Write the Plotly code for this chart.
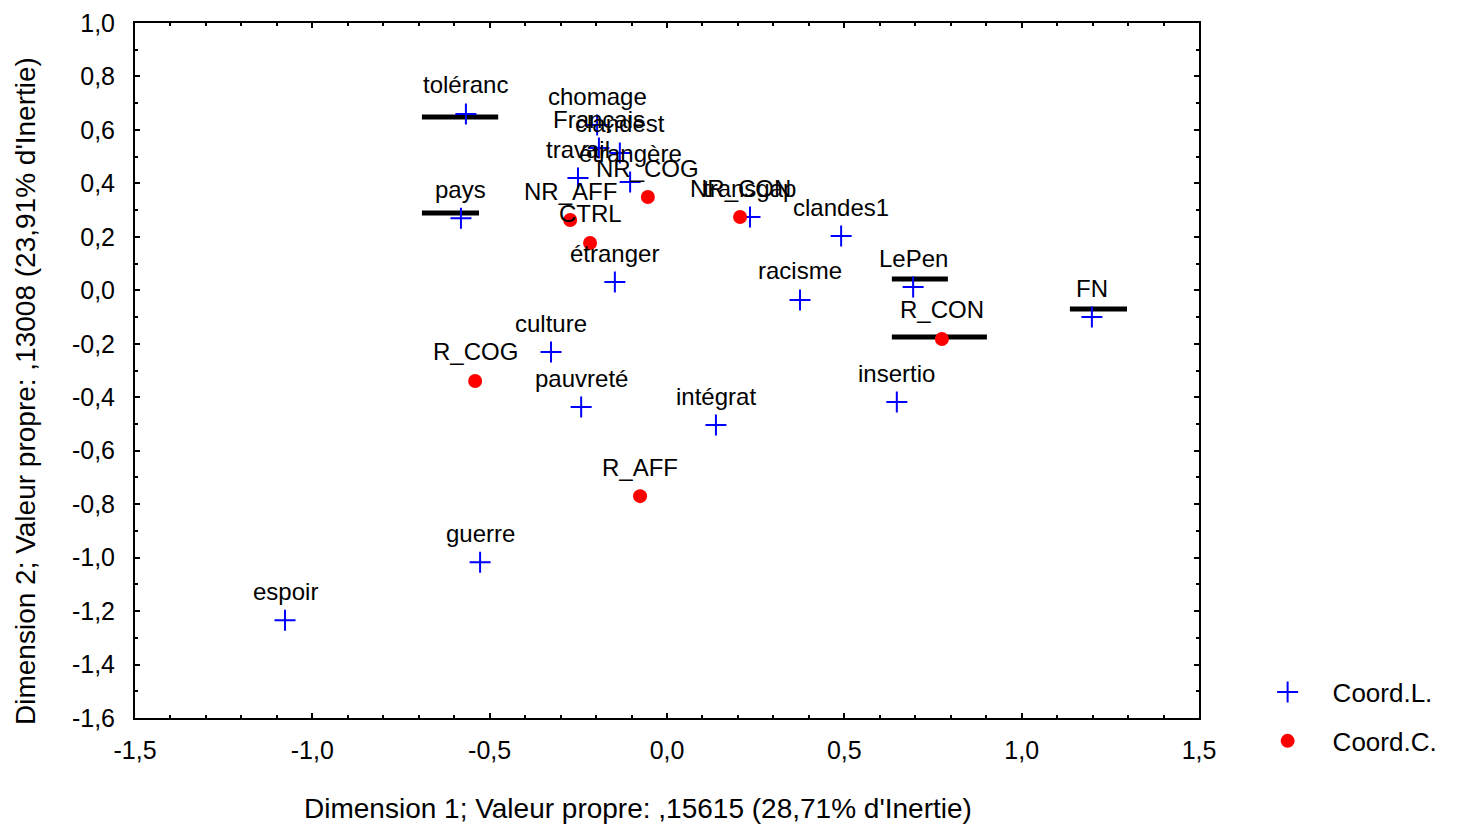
import plotly.graph_objects as go

# Row points (Coord.L.)
labels_L = ["toléranc", "chomage", "Français", "clandest", "travail", "étrangère",
            "transgap", "pays", "étranger", "clandes1", "racisme", "LePen", "FN",
            "insertio", "intégrat", "culture", "pauvreté", "guerre", "espoir"]
x_L = [-0.567, -0.197, -0.192, -0.133, -0.251, -0.104, 0.234, -0.581, -0.147, 0.491,
       0.375, 0.694, 1.198, 0.648, 0.138, -0.327, -0.242, -0.527, -1.077]
y_L = [0.660, 0.618, 0.532, 0.514, 0.420, 0.405, 0.274, 0.270, 0.031, 0.203,
       -0.036, 0.012, -0.100, -0.418, -0.504, -0.231, -0.437, -1.017, -1.234]

# Column points (Coord.C.)
labels_C = ["NR_COG", "NR_CON", "NR_AFF", "CTRL", "R_CON", "R_COG", "R_AFF"]
x_C = [-0.054, 0.206, -0.273, -0.217, 0.775, -0.541, -0.076]
y_C = [0.349, 0.274, 0.263, 0.177, -0.182, -0.339, -0.770]

# Black highlight bars seen in the picture
bar_x0 = [-0.691, -0.691, 0.634, 1.136, 0.634]
bar_x1 = [-0.476, -0.530, 0.792, 1.297, 0.902]
bar_y = [0.648, 0.289, 0.042, -0.070, -0.175]

# Axis ticks
x_ticks = [-1.5, -1.0, -0.5, 0.0, 0.5, 1.0, 1.5]
x_ticktext = ["-1,5", "-1,0", "-0,5", "0,0", "0,5", "1,0", "1,5"]
y_ticks = [1.0, 0.8, 0.6, 0.4, 0.2, 0.0, -0.2, -0.4, -0.6, -0.8, -1.0, -1.2, -1.4, -1.6]
y_ticktext = ["1,0", "0,8", "0,6", "0,4", "0,2", "0,0", "-0,2", "-0,4", "-0,6",
              "-0,8", "-1,0", "-1,2", "-1,4", "-1,6"]

xtitle = "Dimension 1; Valeur propre: ,15615 (28,71% d'Inertie)"
ytitle = "Dimension 2; Valeur propre: ,13008 (23,91% d'Inertie)"

FONT = "Liberation Sans, Arial, sans-serif"

fig = go.Figure()

bx, by = [], []
for a, b, c in zip(bar_x0, bar_x1, bar_y):
    bx += [a, b, None]
    by += [c, c, None]
fig.add_trace(go.Scatter(x=bx, y=by, mode="lines", line=dict(color="black", width=5),
                         showlegend=False, hoverinfo="skip"))

fig.add_trace(go.Scatter(x=x_L, y=y_L, mode="markers", name="Coord.L.", legendgroup="L",
                         marker=dict(symbol="cross-thin", size=15,
                                     line=dict(color="#0000ff", width=2), color="#0000ff")))
fig.add_trace(go.Scatter(x=x_C, y=y_C, mode="markers", name="Coord.C.", legendgroup="C",
                         marker=dict(symbol="circle", size=14, color="#ff0000")))

for lab, xx, yy in list(zip(labels_L, x_L, y_L)) + list(zip(labels_C, x_C, y_C)):
    fig.add_annotation(x=xx, y=yy, text=lab, showarrow=False, yshift=29,
                       xanchor="center", yanchor="middle",
                       font=dict(family=FONT, size=24, color="black"))

fig.add_annotation(xref="paper", yref="paper", x=0.4727, y=-0.1295, text=xtitle,
                   showarrow=False, xanchor="center", yanchor="middle",
                   font=dict(family=FONT, size=28, color="black"))
fig.add_annotation(xref="paper", yref="paper", x=-0.1034, y=0.4705, text=ytitle,
                   showarrow=False, textangle=-90, xanchor="center", yanchor="middle",
                   font=dict(family=FONT, size=28, color="black"))

axis_common = dict(showgrid=False, zeroline=False, showline=True, linecolor="black",
                   linewidth=2, mirror="allticks", ticks="inside", ticklen=5,
                   tickwidth=1.5, tickcolor="black", automargin=False,
                   tickfont=dict(family=FONT, size=25, color="black"))

fig.update_xaxes(range=[-1.5, 1.5], tickmode="array", tickvals=x_ticks, ticktext=x_ticktext,
                 minor=dict(dtick=0.1, tick0=0, ticks="inside", ticklen=3, tickcolor="black"),
                 ticklabelstandoff=9, **axis_common)
fig.update_yaxes(range=[-1.6, 1.0], tickmode="array", tickvals=y_ticks, ticktext=y_ticktext,
                 minor=dict(dtick=0.1, tick0=0, ticks="inside", ticklen=3, tickcolor="black"),
                 ticklabelstandoff=13, **axis_common)

fig.update_layout(
    width=1460, height=830,
    margin=dict(l=127, r=269, t=15, b=120),
    plot_bgcolor="white", paper_bgcolor="white",
    font=dict(family=FONT, size=24, color="black"),
    legend=dict(x=1.041, y=0.071, xanchor="left", yanchor="top",
                font=dict(family=FONT, size=26, color="black"),
                itemwidth=80,
                tracegroupgap=12, bgcolor="rgba(0,0,0,0)"),
)

fig.write_html("out.html")
